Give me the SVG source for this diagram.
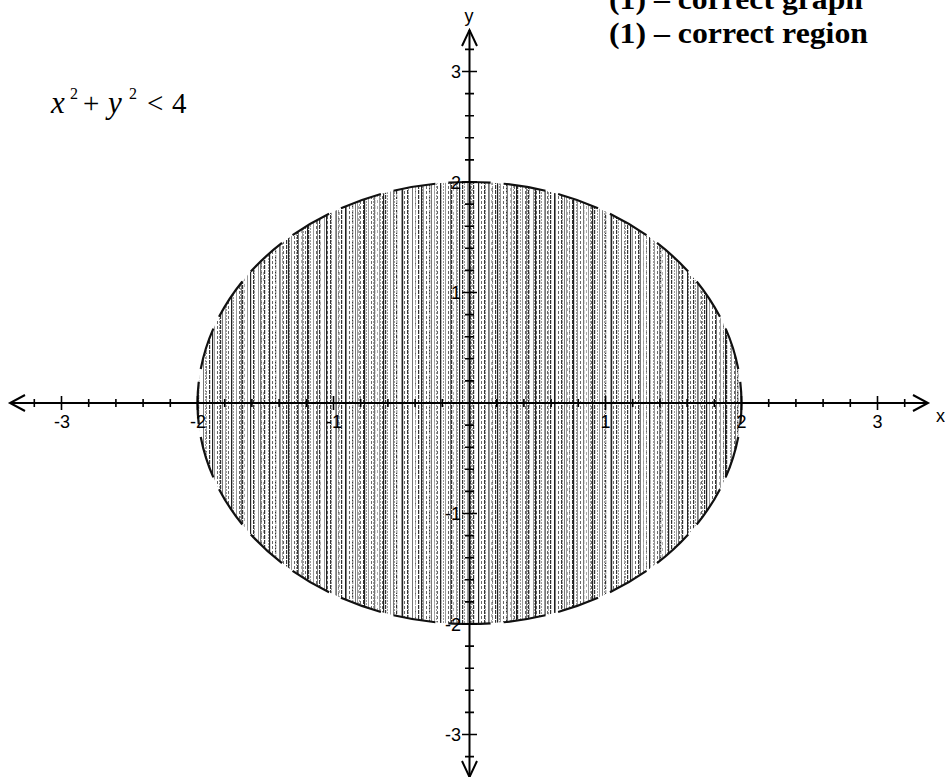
<svg xmlns="http://www.w3.org/2000/svg" width="945" height="777" viewBox="0 0 945 777">
<style>
.ax{stroke:#000;stroke-width:2;fill:none}
.tk{stroke:#000;stroke-width:1.6;fill:none}
.lbl{font-family:"Liberation Sans",Arial,sans-serif;font-size:18px;fill:#000}
.note{font-family:"Liberation Serif","Times New Roman",serif;font-weight:bold;font-size:29px;fill:#000}
.eq{font-family:"Liberation Serif","Times New Roman",serif;font-style:italic;font-size:31px;fill:#000}
.eqn{font-family:"Liberation Serif","Times New Roman",serif;font-size:29px;fill:#000}
.sup{font-family:"Liberation Serif","Times New Roman",serif;font-size:16px;fill:#000}
</style>
<defs>
<pattern id="hatchA" patternUnits="userSpaceOnUse" width="11" height="5">
<rect x="0" y="0" width="1.2" height="4" fill="#333"/>
<rect x="5" y="0" width="1" height="5" fill="#999"/>
<rect x="8" y="1" width="1" height="3" fill="#666"/>
</pattern>
<pattern id="hatchB" patternUnits="userSpaceOnUse" width="7" height="3">
<rect x="2" y="0" width="1" height="2" fill="#999"/>
</pattern>
<pattern id="hatchC" patternUnits="userSpaceOnUse" width="19" height="6">
<rect x="3" y="0" width="1.2" height="6" fill="#222"/>
<rect x="13" y="0" width="1" height="6" fill="#777"/>
<rect x="16" y="2" width="1" height="3" fill="#aaa"/>
</pattern>
</defs>
<rect x="0" y="0" width="945" height="777" fill="#fff"/>

<g id="region">
<ellipse cx="469.5" cy="403" rx="272" ry="221" fill="#fff"/>
<ellipse cx="469.5" cy="403" rx="272" ry="221" fill="url(#hatchA)"/>
<ellipse cx="469.5" cy="403" rx="272" ry="221" fill="url(#hatchB)"/>
<ellipse cx="469.5" cy="403" rx="272" ry="221" fill="url(#hatchC)"/>
<path d="M469.5 182 A272 221 0 0 1 469.5 624 A272 221 0 0 1 469.5 182 Z" fill="none" stroke="#111" stroke-width="2.2" pathLength="1540" stroke-dasharray="42 13" stroke-dashoffset="21"/>
</g>

<g id="axes">
<path class="ax" d="M10 403 H928 M469.5 30 V777"/>
<path class="ax" d="M25 395 L10 403 L25 411 M913 395 L928 403 L913 411 M462 46 L469.5 30 L477 46 M462 761 L469.5 777 L477 761"/>
<path class="tk" d="M34.3 399V407 M61.5 396V410 M88.7 399V407 M115.9 399V407 M143.1 399V407 M170.3 399V407 M197.5 396V410 M224.7 399V407 M251.9 399V407 M279.1 399V407 M306.3 399V407 M333.5 396V410 M360.7 399V407 M387.9 399V407 M415.1 399V407 M442.3 399V407 M496.7 399V407 M523.9 399V407 M551.1 399V407 M578.3 399V407 M605.5 396V410 M632.7 399V407 M659.9 399V407 M687.1 399V407 M714.3 399V407 M741.5 396V410 M768.7 399V407 M795.9 399V407 M823.1 399V407 M850.3 399V407 M877.5 396V410 M904.7 399V407"/>
<path class="tk" d="M465 49.4H474 M462 71.5H477 M465 93.6H474 M465 115.7H474 M465 137.8H474 M465 159.9H474 M462 182H477 M465 204.1H474 M465 226.2H474 M465 248.3H474 M465 270.4H474 M462 292.5H477 M465 314.6H474 M465 336.7H474 M465 358.8H474 M465 380.9H474 M465 425.1H474 M465 447.2H474 M465 469.3H474 M465 491.4H474 M462 513.5H477 M465 535.6H474 M465 557.7H474 M465 579.8H474 M465 601.9H474 M462 624H477 M465 646.1H474 M465 668.2H474 M465 690.3H474 M465 712.4H474 M462 734.5H477 M465 756.6H474"/>
</g>

<g id="axis-labels">
<text class="lbl" x="70" y="428" text-anchor="end">-3</text>
<text class="lbl" x="206" y="428" text-anchor="end">-2</text>
<text class="lbl" x="342" y="428" text-anchor="end">-1</text>
<text class="lbl" x="605.5" y="428" text-anchor="middle">1</text>
<text class="lbl" x="741.5" y="428" text-anchor="middle">2</text>
<text class="lbl" x="877.5" y="428" text-anchor="middle">3</text>
<text class="lbl" x="461" y="78" text-anchor="end">3</text>
<text class="lbl" x="461" y="188.5" text-anchor="end">2</text>
<text class="lbl" x="461" y="299" text-anchor="end">1</text>
<text class="lbl" x="461" y="520" text-anchor="end">-1</text>
<text class="lbl" x="461" y="630.5" text-anchor="end">-2</text>
<text class="lbl" x="461" y="741" text-anchor="end">-3</text>
<text class="lbl" x="936" y="422">x</text>
<text class="lbl" x="469" y="22" text-anchor="middle">y</text>
</g>

<g id="equation">
<text class="eq" x="51" y="113">x</text>
<text class="sup" x="70" y="99">2</text>
<text class="eqn" x="83" y="113">+</text>
<text class="eq" x="108" y="113">y</text>
<text class="sup" x="129" y="99">2</text>
<text class="eqn" x="147" y="113">&lt;</text>
<text class="eqn" x="172" y="113">4</text>
</g>

<g id="marks">
<text class="note" x="609" y="9" textLength="254" lengthAdjust="spacingAndGlyphs">(1) – correct graph</text>
<text class="note" x="609" y="43" textLength="259" lengthAdjust="spacingAndGlyphs">(1) – correct region</text>
</g>
</svg>
